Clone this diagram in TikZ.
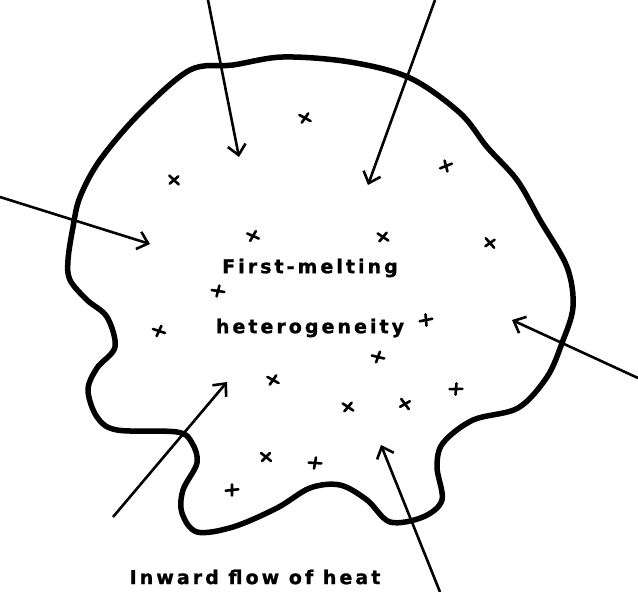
\documentclass[tikz,border=0pt]{standalone}
\usepackage{fontspec}
\usetikzlibrary{arrows.meta}
\newfontfamily\heavyfont[LetterSpace=16.0,BoldFeatures={FakeBold=1.2}]{DejaVu Sans}
\tikzset{
  blob/.style={line width=5.5pt,line join=round},
  flow/.style={line width=2.6pt,->},
  xmk/.style={line width=2.6pt,line cap=round},
  lbl/.style={font=\heavyfont\bfseries\fontsize{19}{22}\selectfont,inner sep=0pt}
}
\begin{document}
\begin{tikzpicture}[x=1pt,y=-1pt,>={Straight Barb[length=10pt,width=18pt,line width=2.6pt]}]
\useasboundingbox (0,0) rectangle (638,592);
% grain outline
\draw[blob] plot[smooth cycle,tension=0.55] coordinates {
  (190,70) (233,65) (283,57) (350,62) (410,78) (460,113) (487,147) (517,180)
  (540,220) (567,267) (573,307) (562,343) (547,377) (518,408) (473,420) (443,443)
  (437,467) (442,500) (423,517) (390,522) (367,500) (340,485) (310,488) (277,508)
  (233,527) (197,532) (182,513) (183,490) (197,463) (192,443) (177,432) (117,430)
  (97,417) (88,390) (97,368) (115,347) (107,317) (87,300) (70,280) (68,260)
  (73,227) (80,197) (100,160) (140,113)};
% labels
\node[lbl] (first) at (310,268) {First-melting};
\node[lbl] (hetero) at (310,328) {heterogeneity};
\node[lbl] (inward) at (255,577) {Inward flow of heat};
% heat arrows
\coordinate (tA) at (208,0);   \coordinate (hA) at (239,157);
\coordinate (tB) at (435,0);   \coordinate (hB) at (368,185);
\coordinate (tC) at (0,197);   \coordinate (hC) at (150,244);
\coordinate (tD) at (638,378); \coordinate (hD) at (512,320);
\coordinate (tE) at (113,517); \coordinate (hE) at (227,382);
\coordinate (tF) at (440,592); \coordinate (hF) at (381,445);
\foreach \t/\h in {tA/hA,tB/hB,tC/hC,tD/hD,tE/hE,tF/hF}
  \draw[flow] (\t) -- (\h);
% scattered nuclei
\foreach \x/\y/\a in {305/118/10,174/180/-5,253/236/15,383/237/5,446/166/60,
  490/243/-10,218/291/30,159/331/20,426/320/50,378/357/25,273/380/10,
  348/407/5,405/404/-15,456/389/40,266/457/0,315/463/35,232/490/45}
  \draw[xmk,shift={(\x,\y)},rotate=\a] (-5,-4) -- (5,4) (-4,4) -- (4,-4);
\end{tikzpicture}
\end{document}
